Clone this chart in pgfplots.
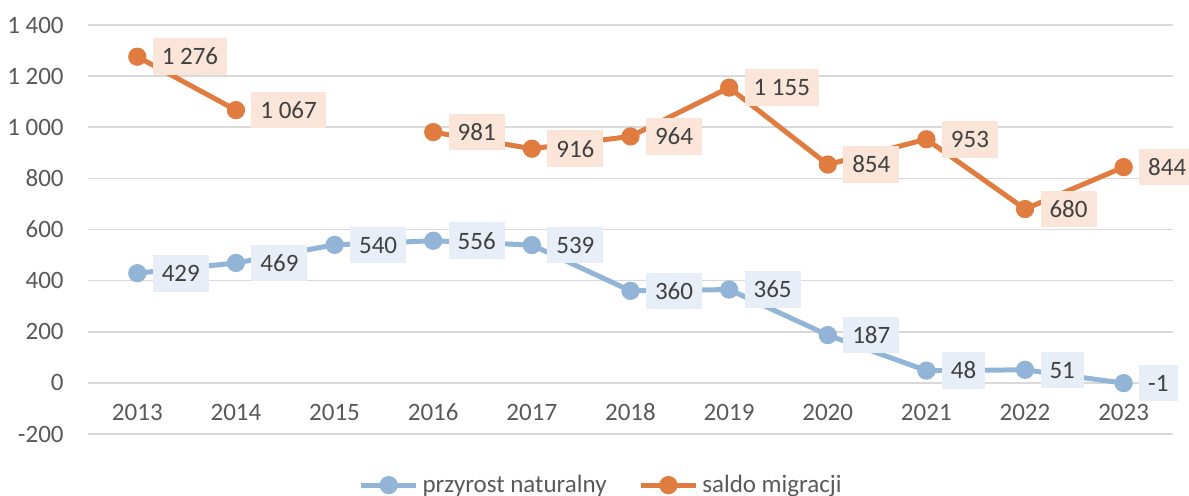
\documentclass[border=0pt]{standalone}
\usepackage{pgfplots}
\pgfplotsset{compat=1.18}
\usepackage{fontspec}
\setmainfont{Carlito}
\definecolor{cblue}{HTML}{92B5D7}
\definecolor{corange}{HTML}{E07C40}
\definecolor{lblue}{HTML}{E8EEF7}
\definecolor{lorange}{HTML}{FAE5D8}
\definecolor{gridc}{HTML}{D9D9D9}
\definecolor{tickc}{HTML}{595959}
\definecolor{labc}{HTML}{404040}
\begin{document}
\begin{tikzpicture}
\begin{axis}[
  name=ax,
  scale only axis,
  width=542.5pt, height=204.5pt,
  xmin=2012.5, xmax=2023.5,
  ymin=-200, ymax=1400,
  xtick={2013,...,2023},
  xticklabels={2013,2014,2015,2016,2017,2018,2019,2020,2021,2022,2023},
  ytick={-200,0,...,1400},
  ymajorgrids,
  grid style={gridc, line width=0.8pt},
  axis line style={draw=none},
  major tick length=0pt,
  tick label style={font=\fontsize{12.5}{14}\selectfont, text=tickc},
  xticklabel style={anchor=center, yshift=11pt},
  yticklabel style={anchor=east, inner sep=0pt, xshift=-12pt},
  /pgf/number format/.cd, 1000 sep={\ }, assume math mode=true,
  /pgfplots/.cd,
  clip=false,
  unbounded coords=jump,
  nodes near coords,
  every node near coord/.append style={anchor=west, xshift=6.5pt,
    font=\fontsize{12.5}{14}\selectfont, text=labc,
    inner xsep=4.5pt, inner ysep=5pt, text height=8.3pt, text depth=0pt},
  legend style={at={(0.474,-0.125)}, anchor=center, draw=none, fill=none,
    legend columns=2, font=\fontsize{12.5}{14}\selectfont, text=tickc,
    /tikz/every even column/.append style={column sep=14pt}},
  legend cell align=left,
  legend image code/.code={\draw[mark repeat=2,mark phase=2] plot coordinates {(0cm,0cm)(0.48cm,0cm)(0.96cm,0cm)};},
]
\addplot[cblue, line width=2.5pt, mark=*, mark size=3.3pt,
  every node near coord/.append style={fill=lblue}]
  coordinates {(2013,429)(2014,469)(2015,540)(2016,556)(2017,539)(2018,360)(2019,365)(2020,187)(2021,48)(2022,51)(2023,-1)};
\addlegendentry{przyrost naturalny}
\addplot[corange, line width=2.5pt, mark=*, mark size=3.3pt,
  every node near coord/.append style={fill=lorange}]
  coordinates {(2013,1276)(2014,1067)(2015,nan)(2016,981)(2017,916)(2018,964)(2019,1155)(2020,854)(2021,953)(2022,680)(2023,844)};
\addlegendentry{saldo migracji}
\end{axis}
\pgfresetboundingbox
\path[use as bounding box] (ax.south west) ++(-44pt,-31pt) rectangle ++(594.5pt,248pt);
\end{tikzpicture}
\end{document}
